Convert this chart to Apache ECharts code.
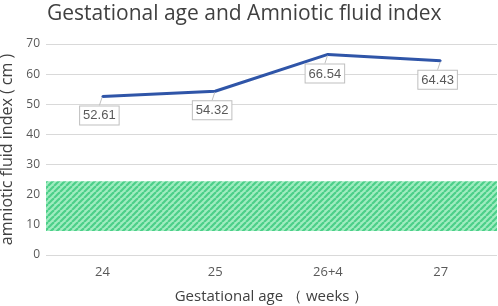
<!DOCTYPE html>
<html>
<head>
<meta charset="utf-8">
<style>
  html, body { margin: 0; padding: 0; background: #fff; }
  #chart { width: 498px; height: 306px; }
</style>
<script src="https://cdn.jsdelivr.net/npm/echarts@6/dist/echarts.min.js"></script>
</head>
<body>
<div id="chart"></div>
<script>
  const weeks = ['24', '25', '26+4', '27']
  const afiValues = [52.61, 54.32, 66.54, 64.43]
  const normalRange = [8, 24.5]
  const yTicks = { min: 0, max: 70, interval: 10 }

  // striped fill for the normal range band
  function stripePattern() {
    const size = 6
    const c = document.createElement('canvas')
    c.width = size
    c.height = size
    const ctx = c.getContext('2d')
    ctx.fillStyle = '#a0ecc0'
    ctx.fillRect(0, 0, size, size)
    ctx.strokeStyle = '#4ccf89'
    ctx.lineWidth = 2.2
    for (let k = -1; k <= 1; k++) {
      ctx.beginPath()
      ctx.moveTo(k * size, size)
      ctx.lineTo(k * size + size, 0)
      ctx.stroke()
    }
    return c
  }

  const myChart = echarts.init(document.getElementById('chart'))
  myChart.setOption({
    animation: false,
    title: {
      text: 'Gestational age and Amniotic fluid index',
      left: 42,
      top: -1,
      textStyle: {
        fontFamily: 'Open Sans',
        fontSize: 21,
        fontWeight: 'normal',
        color: '#404040'
      }
    },
    grid: {
      left: 46,
      right: 1,
      top: 44,
      bottom: 51,
      containLabel: false,
      outerBoundsMode: 'none'
    },
    xAxis: {
      type: 'category',
      data: weeks,
      name: 'Gestational age （ weeks ）',
      nameLocation: 'middle',
      nameGap: 34,
      nameTextStyle: {
        fontFamily: 'Open Sans',
        fontSize: 15,
        color: '#404040'
      },
      axisLine: { show: false },
      axisTick: { show: false },
      axisLabel: {
        margin: 11,
        fontFamily: 'Open Sans',
        fontSize: 13,
        color: '#595959'
      }
    },
    yAxis: {
      type: 'value',
      min: yTicks.min,
      max: yTicks.max,
      interval: yTicks.interval,
      name: 'amniotic fluid index ( cm )',
      nameLocation: 'middle',
      nameGap: 31,
      nameTextStyle: {
        fontFamily: 'Open Sans',
        fontSize: 16,
        color: '#404040'
      },
      axisLabel: {
        margin: 6,
        fontFamily: 'Open Sans',
        fontSize: 12,
        color: '#595959'
      },
      splitLine: {
        lineStyle: {
          color: '#d9d9d9',
          width: 1
        }
      }
    },
    series: [
      {
        type: 'line',
        data: afiValues,
        symbol: 'circle',
        symbolSize: 2,
        showSymbol: true,
        itemStyle: { color: '#2f55a8' },
        lineStyle: {
          color: '#2f55a8',
          width: 3
        },
        label: {
          show: true,
          position: 'bottom',
          distance: 0,
          fontFamily: 'Liberation Sans',
          fontSize: 13,
          color: '#595959',
          backgroundColor: '#fff',
          borderColor: '#bfbfbf',
          borderWidth: 1,
          padding: [3, 3, 2, 3]
        },
        labelLayout: {
          dx: -3,
          dy: 9
        },
        labelLine: {
          show: true,
          lineStyle: {
            color: '#bfbfbf',
            width: 1
          }
        },
        markArea: {
          silent: true,
          itemStyle: {
            color: { image: stripePattern(), repeat: 'repeat' }
          },
          data: [[{ yAxis: normalRange[0] }, { yAxis: normalRange[1] }]]
        },
        z: 3
      }
    ]
  })
</script>
</body>
</html>
